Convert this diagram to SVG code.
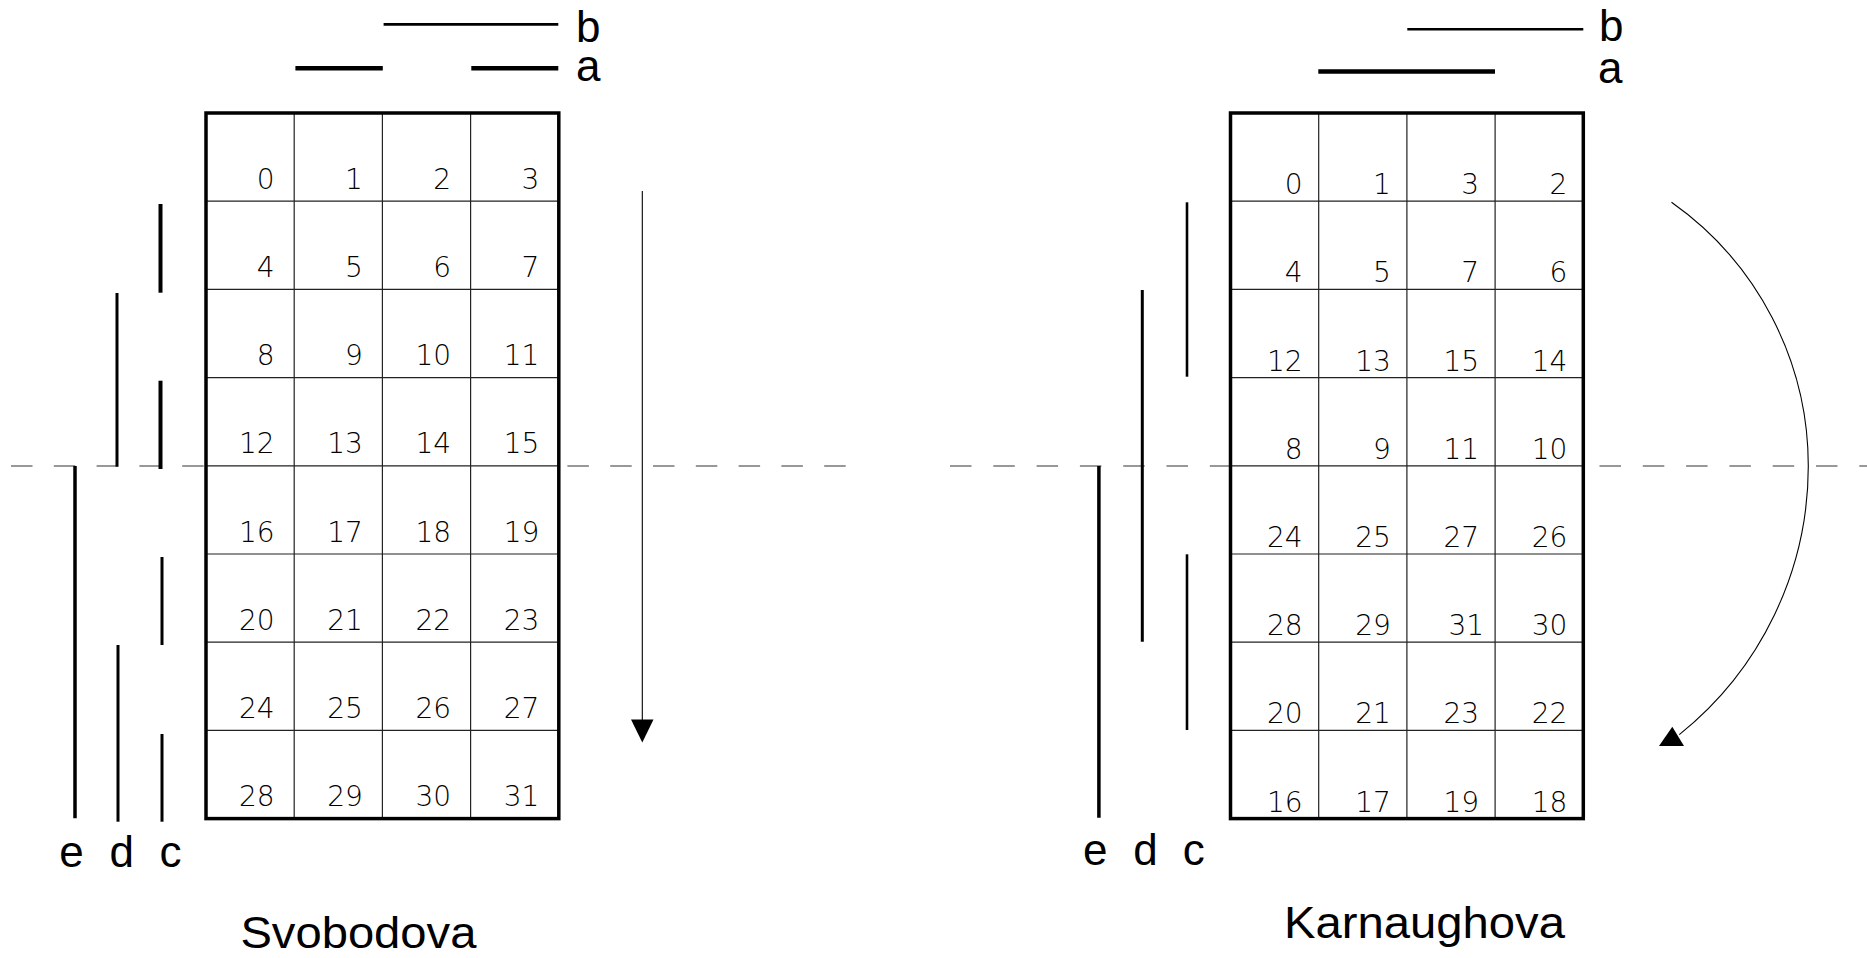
<svg xmlns="http://www.w3.org/2000/svg" width="1867" height="958" viewBox="0 0 1867 958">
<style>
.bg{fill:#fff}
.dash{stroke:#333;stroke-width:1.1;fill:none}
.grid{stroke:#222;stroke-width:1.2;fill:none}
.box{stroke:#000;stroke-width:3.5;fill:none}
.bar{stroke:#000;fill:none}
.num{font-family:"DejaVu Sans","Liberation Sans",sans-serif;font-weight:200;font-size:28px;fill:#000;text-anchor:end}
.lbl{font-family:"Liberation Sans",Arial,sans-serif;font-size:44px;fill:#000}
.mid{text-anchor:middle}
.title{font-family:"Liberation Sans",Arial,sans-serif;font-size:44px;fill:#000}
.thin{stroke:#000;stroke-width:1.1;fill:none}
</style>
<rect class="bg" x="0" y="0" width="1867" height="958"/>

<g id="axis">
<line class="dash" x1="11" y1="466" x2="846" y2="466" stroke-dasharray="21.5 21.3"/>
<line class="dash" x1="950" y1="466" x2="1867" y2="466" stroke-dasharray="21.5 21.8"/>
</g>

<g id="svobodova-map">
<rect x="206" y="113" width="352.8" height="705.6" fill="#fff"/>
<path class="grid" d="M294.2 113V818.6M382.4 113V818.6M470.6 113V818.6M206 201.2H558.8M206 289.4H558.8M206 377.6H558.8M206 465.8H558.8M206 554H558.8M206 642.2H558.8M206 730.4H558.8"/>
<rect class="box" x="206" y="113" width="352.8" height="705.6"/>
<g class="num">
<text x="274.7" y="188.7">0</text><text x="362.9" y="188.7">1</text><text x="451.1" y="188.7">2</text><text x="539.3" y="188.7">3</text>
<text x="274.7" y="276.9">4</text><text x="362.9" y="276.9">5</text><text x="451.1" y="276.9">6</text><text x="539.3" y="276.9">7</text>
<text x="274.7" y="365.1">8</text><text x="362.9" y="365.1">9</text><text x="451.1" y="365.1">10</text><text x="539.3" y="365.1">11</text>
<text x="274.7" y="453.3">12</text><text x="362.9" y="453.3">13</text><text x="451.1" y="453.3">14</text><text x="539.3" y="453.3">15</text>
<text x="274.7" y="541.5">16</text><text x="362.9" y="541.5">17</text><text x="451.1" y="541.5">18</text><text x="539.3" y="541.5">19</text>
<text x="274.7" y="629.7">20</text><text x="362.9" y="629.7">21</text><text x="451.1" y="629.7">22</text><text x="539.3" y="629.7">23</text>
<text x="274.7" y="717.9">24</text><text x="362.9" y="717.9">25</text><text x="451.1" y="717.9">26</text><text x="539.3" y="717.9">27</text>
<text x="274.7" y="806.1">28</text><text x="362.9" y="806.1">29</text><text x="451.1" y="806.1">30</text><text x="539.3" y="806.1">31</text>
</g>
</g>

<g id="svobodova-vars">
<line class="bar" x1="383.6" y1="24.3" x2="558.3" y2="24.3" stroke-width="2.7"/>
<line class="bar" x1="295.4" y1="68.3" x2="382.8" y2="68.3" stroke-width="4.5"/>
<line class="bar" x1="471.3" y1="68.3" x2="558.3" y2="68.3" stroke-width="4.5"/>
<text class="lbl" x="576" y="41.7">b</text>
<text class="lbl" x="576" y="81">a</text>
<line class="bar" x1="160.5" y1="204" x2="160.5" y2="292.7" stroke-width="4"/>
<line class="bar" x1="160.5" y1="380.7" x2="160.5" y2="469" stroke-width="4"/>
<line class="bar" x1="162" y1="557" x2="162" y2="645" stroke-width="3"/>
<line class="bar" x1="162" y1="734" x2="162" y2="821.7" stroke-width="3"/>
<line class="bar" x1="117" y1="293" x2="117" y2="466.7" stroke-width="3"/>
<line class="bar" x1="118" y1="645" x2="118" y2="821.7" stroke-width="3"/>
<line class="bar" x1="75" y1="466" x2="75" y2="818.3" stroke-width="3.5"/>
<text class="lbl mid" x="71.6" y="866.7">e</text>
<text class="lbl mid" x="121.8" y="866.7">d</text>
<text class="lbl mid" x="170.4" y="866.7">c</text>
<text class="title" x="240.4" y="948" textLength="236" lengthAdjust="spacingAndGlyphs">Svobodova</text>
</g>

<g id="karnaugh-map">
<rect x="1230.5" y="113" width="352.8" height="705.6" fill="#fff"/>
<path class="grid" d="M1318.7 113V818.6M1406.9 113V818.6M1495.1 113V818.6M1230.5 201.2H1583.3M1230.5 289.4H1583.3M1230.5 377.6H1583.3M1230.5 465.8H1583.3M1230.5 554H1583.3M1230.5 642.2H1583.3M1230.5 730.4H1583.3"/>
<rect class="box" x="1230.5" y="113" width="352.8" height="705.6"/>
<g class="num">
<text x="1302.7" y="194.2">0</text><text x="1390.9" y="194.2">1</text><text x="1479.1" y="194.2">3</text><text x="1567.3" y="194.2">2</text>
<text x="1302.7" y="282.4">4</text><text x="1390.9" y="282.4">5</text><text x="1479.1" y="282.4">7</text><text x="1567.3" y="282.4">6</text>
<text x="1302.7" y="370.6">12</text><text x="1390.9" y="370.6">13</text><text x="1479.1" y="370.6">15</text><text x="1567.3" y="370.6">14</text>
<text x="1302.7" y="458.8">8</text><text x="1390.9" y="458.8">9</text><text x="1479.1" y="458.8">11</text><text x="1567.3" y="458.8">10</text>
<text x="1302.7" y="547">24</text><text x="1390.9" y="547">25</text><text x="1479.1" y="547">27</text><text x="1567.3" y="547">26</text>
<text x="1302.7" y="635.2">28</text><text x="1390.9" y="635.2">29</text><text x="1484.1" y="635.2">31</text><text x="1567.3" y="635.2">30</text>
<text x="1302.7" y="723.4">20</text><text x="1390.9" y="723.4">21</text><text x="1479.1" y="723.4">23</text><text x="1567.3" y="723.4">22</text>
<text x="1302.7" y="811.6">16</text><text x="1390.9" y="811.6">17</text><text x="1479.1" y="811.6">19</text><text x="1567.3" y="811.6">18</text>
</g>
</g>

<g id="karnaugh-vars">
<line class="bar" x1="1407.3" y1="29.3" x2="1583.3" y2="29.3" stroke-width="2.6"/>
<line class="bar" x1="1318.3" y1="71.5" x2="1495" y2="71.5" stroke-width="4.5"/>
<text class="lbl" x="1599" y="40.7">b</text>
<text class="lbl" x="1598" y="83.3">a</text>
<line class="bar" x1="1187" y1="202.3" x2="1187" y2="376.7" stroke-width="2.6"/>
<line class="bar" x1="1187" y1="554.3" x2="1187" y2="730" stroke-width="2.6"/>
<line class="bar" x1="1142.3" y1="290" x2="1142.3" y2="641.7" stroke-width="3"/>
<line class="bar" x1="1098.9" y1="466" x2="1098.9" y2="817.7" stroke-width="3.5"/>
<text class="lbl mid" x="1095.3" y="865">e</text>
<text class="lbl mid" x="1145.5" y="865">d</text>
<text class="lbl mid" x="1193.7" y="865">c</text>
<text class="title" x="1284" y="938.3" textLength="281" lengthAdjust="spacingAndGlyphs">Karnaughova</text>
</g>

<g id="connectors">
<line class="thin" x1="642.3" y1="191" x2="642.3" y2="720"/>
<polygon points="631,719.5 653.5,719.5 642.3,742.5" fill="#000"/>
<path class="thin" stroke="#444" d="M1671.5 202.3A322.5 322.5 0 0 1 1808.3 466A344 344 0 0 1 1679.3 734.6"/>
<polygon points="1659,746 1684,746 1672.3,726.7" fill="#000"/>
</g>
</svg>
